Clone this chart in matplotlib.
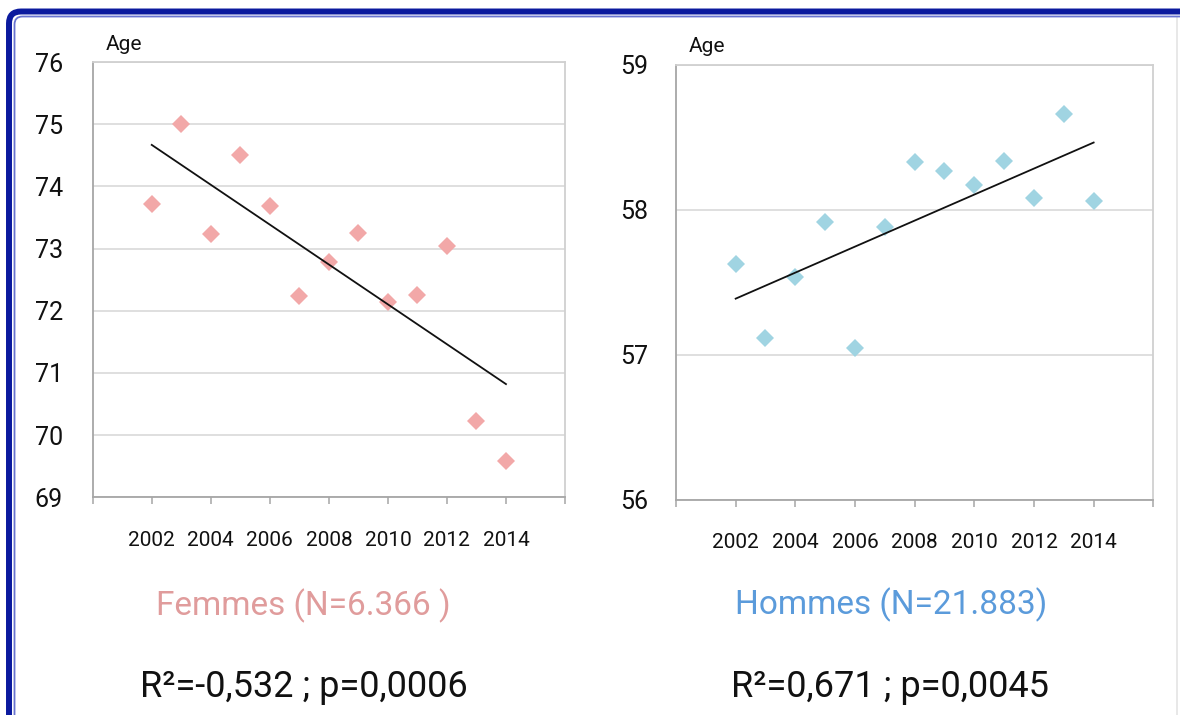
import numpy as np
import matplotlib
matplotlib.use("Agg")
import matplotlib.pyplot as plt
from matplotlib.patches import FancyBboxPatch
from matplotlib.lines import Line2D
from matplotlib.ticker import FixedLocator, FixedFormatter

plt.rcParams['font.family'] = ['Roboto', 'DejaVu Sans']

# ---------------- data ----------------
years = [2002, 2003, 2004, 2005, 2006, 2007, 2008, 2009, 2010, 2011, 2012, 2013, 2014]
femmes_age = [73.72, 75.01, 73.24, 74.51, 73.68, 72.23, 72.78, 73.25, 72.14, 72.26, 73.04, 70.22, 69.59]
hommes_age = [57.63, 57.12, 57.54, 57.92, 57.05, 57.88, 58.33, 58.27, 58.17, 58.34, 58.08, 58.66, 58.06]

xtick_pos = [2000, 2002, 2004, 2006, 2008, 2010, 2012, 2014, 2016]
xtick_labels = ['', '2002', '2004', '2006', '2008', '2010', '2012', '2014', '']
femmes_yticks = [69, 70, 71, 72, 73, 74, 75, 76]
hommes_yticks = [56, 57, 58, 59]

y_label = "Age"
femmes_title = "Femmes (N=6.366 )"
hommes_title = "Hommes (N=21.883)"
femmes_stat = "R²=-0,532 ; p=0,0006"
hommes_stat = "R²=0,671 ; p=0,0045"

# ---------------- figure ----------------
W, H = 1180, 715
fig = plt.figure(figsize=(W / 100, H / 100), dpi=100)
fig.patch.set_facecolor('white')


def fx(x):
    return x / W


def fy(y):
    return 1 - y / H


def make_axes(x0, x1, y0, y1):
    return fig.add_axes([fx(x0), fy(y1), fx(x1) - fx(x0), (y1 - y0) / H])


ax1 = make_axes(92.7, 565, 62, 497.3)
ax2 = make_axes(676, 1153.3, 65, 500)

grid_c = '#D9D9D9'
axis_c = '#A6A6A6'


def style(ax, yticks, ylim, ypad, marker_color, values):
    ax.set_xlim(2000, 2016)
    ax.set_ylim(*ylim)
    ax.set_yticks(yticks)
    ax.xaxis.set_major_locator(FixedLocator(xtick_pos))
    ax.xaxis.set_major_formatter(FixedFormatter(xtick_labels))
    ax.grid(axis='y', color=grid_c, linewidth=1.2, zorder=0)
    ax.set_axisbelow(True)
    for s in ['top', 'right']:
        ax.spines[s].set_color('#D0D0D0')
        ax.spines[s].set_linewidth(1.3)
    for s in ['left', 'bottom']:
        ax.spines[s].set_color(axis_c)
        ax.spines[s].set_linewidth(1.3)
    ax.tick_params(axis='y', length=0, pad=ypad, labelsize=18, labelcolor='#111111')
    ax.tick_params(axis='x', length=5, width=1.1, color=axis_c, direction='out',
                   pad=19, labelsize=15, labelcolor='#111111')
    ax.plot(years, values, linestyle='none', marker='D', markersize=9,
            markerfacecolor=marker_color, markeredgewidth=0, zorder=3)
    coef = np.polyfit(years, values, 1)
    xs = np.array([years[0], years[-1]])
    ax.plot(xs, np.polyval(coef, xs), color='#111111', linewidth=1.3, zorder=4)


style(ax1, femmes_yticks, (69, 76), 21.4, '#F2A8A8', femmes_age)
style(ax2, hommes_yticks, (56, 59), 20.2, '#A0D4E2', hommes_age)

# "Age" labels
fig.text(fx(106), fy(50), y_label, fontsize=15, ha='left', va='baseline', color='#111111')
fig.text(fx(689), fy(52), y_label, fontsize=15, ha='left', va='baseline', color='#111111')

# titles and stats
fig.text(fx(303), fy(615), femmes_title, fontsize=24, ha='center', va='baseline', color='#E09C9C')
fig.text(fx(891), fy(614), hommes_title, fontsize=24, ha='center', va='baseline', color='#5B9BDB')
fig.text(fx(304), fy(697), femmes_stat, fontsize=26, ha='center', va='baseline', color='#111111')
fig.text(fx(890), fy(697), hommes_stat, fontsize=26, ha='center', va='baseline', color='#111111')

# blue double border (display pixel coordinates)
outer = FancyBboxPatch((9, -60), W + 60, (H - 11.5) + 60,
                       boxstyle="round,pad=0,rounding_size=12",
                       transform=None, fill=False, edgecolor='#0B1A9E',
                       linewidth=4.3, zorder=10)
inner = FancyBboxPatch((14.5, -60), W + 60, (H - 16.5) + 60,
                       boxstyle="round,pad=0,rounding_size=8",
                       transform=None, fill=False, edgecolor='#6874D0',
                       linewidth=1.3, zorder=10)
fig.patches.extend([outer, inner])
fig.lines.append(Line2D([fx(1177), fx(1177)], [0, fy(17)], transform=fig.transFigure,
                        color='#E4E4E4', linewidth=1.2))

fig.savefig('out.png', dpi=100)
